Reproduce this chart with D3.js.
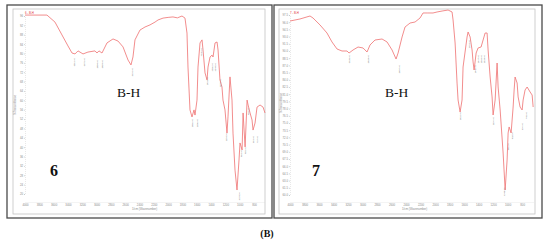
<!DOCTYPE html>
<meta charset="utf-8">
<style>

body {
  margin: 0;
  background: #fff;
}

svg text {
  font-family: "Liberation Sans", Arial, sans-serif;
}

svg text.serif {
  font-family: "Liberation Serif", "Times New Roman", serif;
}

.spec {
  fill: none;
  stroke: #f07878;
  stroke-width: 0.85px;
}

.tick-lab {
  fill: #8a8a8a;
  font-size: 2.8px;
}

.peak-lab {
  fill: #6a6a6a;
  font-size: 2.3px;
}

</style>
<body>

<script src="https://cdn.jsdelivr.net/npm/d3@7"></script>
<script>

// spectrum 6 (left panel): wavenumber (1/cm) and %T
var wn6 = [4000, 3693, 3581, 3483, 3399, 3343, 3301, 3259, 3189, 3120, 3022, 2994, 2966, 2924, 2854, 2770, 2700, 2630, 2560, 2519,
           2491, 2463, 2393, 2323, 2253, 2183, 2141, 2071, 2000, 1932, 1870, 1806, 1764, 1736, 1722, 1694, 1666, 1638, 1624, 1596,
           1582, 1554, 1526, 1512, 1484, 1456, 1442, 1414, 1386, 1372, 1344, 1316, 1302, 1275, 1247, 1233, 1205, 1177, 1163, 1135,
           1107, 1093, 1065, 1037, 1009, 995, 966, 952, 924, 896, 882, 855, 827, 813, 785, 757, 715, 673, 646];
var t6 = [96.4, 96.4, 93.4, 87.9, 83.2, 80.2, 79.8, 81.1, 79.8, 80.6, 81.1, 80.2, 81.1, 80.2, 84.5, 86.2, 85.3, 82.8, 77.2, 75.1,
          78.5, 85.8, 90.0, 91.3, 92.2, 93.4, 94.3, 95.1, 95.4, 95.6, 95.2, 96.0, 95.1, 88.7, 74.2, 55.9, 52.9, 55.9, 53.7, 60.1,
          74.2, 84.5, 85.8, 81.5, 71.7, 68.7, 74.2, 78.5, 79.3, 78.5, 84.5, 84.9, 81.5, 68.7, 65.7, 60.1, 55.9, 46.0, 52.9, 70.0,
          60.1, 46.0, 30.2, 21.7, 34.5, 41.8, 38.8, 54.6, 40.1, 60.1, 58.0, 54.6, 51.6, 47.3, 50.3, 57.1, 58.0, 57.1, 54.6];

// spectrum 7 (right panel)
var wn7 = [4000, 3862, 3724, 3683, 3586, 3490, 3421, 3352, 3283, 3214, 3186, 3131, 3062, 2993, 2938, 2897, 2828, 2731, 2662, 2593,
           2538, 2510, 2455, 2414, 2345, 2276, 2207, 2166, 2110, 2028, 1972, 1903, 1821, 1766, 1752, 1724, 1697, 1683, 1655, 1628,
           1614, 1559, 1545, 1517, 1490, 1476, 1462, 1434, 1407, 1366, 1338, 1310, 1283, 1269, 1241, 1214, 1200, 1172, 1145, 1131,
           1103, 1062, 1034, 1007, 993, 979, 952, 924, 910, 897, 869, 855, 828, 800, 786, 759, 731, 690, 662, 648];
var t7 = [96.25, 96.67, 97.29, 96.88, 95.42, 93.75, 91.88, 90.42, 90.0, 90.0, 89.58, 90.21, 90.83, 90.63, 89.79, 91.25, 92.29, 92.5, 91.88, 90.21,
          88.33, 89.58, 92.92, 95.0, 95.83, 96.04, 96.88, 97.92, 97.92, 97.92, 98.13, 98.33, 98.54, 98.13, 96.46, 91.67, 83.33, 79.79, 77.29, 79.79,
          86.67, 92.92, 93.96, 92.92, 90.21, 87.71, 86.04, 89.58, 90.63, 90.83, 92.29, 93.75, 93.75, 90.21, 84.58, 80.42, 76.67, 79.79, 87.5, 82.5,
          77.71, 68.75, 61.04, 67.29, 72.92, 74.17, 72.92, 78.33, 81.88, 84.58, 83.33, 80.42, 78.33, 77.71, 79.79, 81.88, 82.5, 81.46, 80.83, 78.33];

// peak labels (wavenumber, %T where the label starts)
var peakWn6 = [3315, 3175, 2994, 2924, 2505, 1666, 1596, 1540, 1456, 1386, 1344, 1275, 1191, 1009, 981, 925, 883, 813, 757];
var peakT6 = [78.1, 78.1, 77.2, 77.2, 73.8, 52.0, 52.0, 82.3, 70.0, 75.9, 75.9, 69.1, 46.0, 20.8, 38.8, 40.1, 56.7, 44.8, 44.8];
var peakWn7 = [3186, 2924, 2497, 1655, 1531, 1448, 1407, 1366, 1324, 1200, 1048, 993, 938, 800, 745];
var peakT7 = [89.2, 89.2, 87.1, 77.3, 92.3, 87.1, 89.2, 89.2, 89.2, 76.25, 61.5, 70.8, 73.1, 75.0, 77.3];

// tick labels
var xTicks = [4000, 3800, 3600, 3400, 3200, 3000, 2800, 2600, 2400, 2200, 2000, 1800, 1600, 1400, 1200, 1000, 800];
var yTicks6 = [96, 92, 88, 84, 80, 76, 72, 68, 64, 60, 56, 52, 48, 44, 40, 36, 32, 28, 24, 20];
var yTicks7 = [97.5, 96, 94.5, 93, 91.5, 90, 88.5, 87, 85.5, 84, 82.5, 81, 79.5, 78, 76.5, 75, 73.5, 72, 70.5, 69,
               67.5, 66, 64.5, 63, 61.5, 60];

var compounds = ["6", "7"];

var svg = d3.select("body").append("svg")
    .attr("width", 550)
    .attr("height", 244);

function drawPanel(p) {
  var g = svg.append("g");

  // outer box and inner (screenshot) frame
  g.append("rect")
      .attr("x", p.outer[0]).attr("y", p.outer[1])
      .attr("width", p.outer[2]).attr("height", p.outer[3])
      .attr("fill", "none").attr("stroke", "#4a4a4a").attr("stroke-width", 1.3);
  g.append("rect")
      .attr("x", p.inner[0]).attr("y", p.inner[1])
      .attr("width", p.inner[2]).attr("height", p.inner[3])
      .attr("fill", "none").attr("stroke", "#c4c4c4").attr("stroke-width", 0.8);

  var x = d3.scaleLinear().domain([4000, 650]).range(p.xRange);
  var y = d3.scaleLinear().domain(p.yDomain).range(p.yRange);

  // axes
  var xa = g.append("g")
      .attr("transform", "translate(0," + p.xAxisY + ")")
      .call(d3.axisBottom(x).tickValues(xTicks).tickSize(0).tickPadding(2.2).tickFormat(d3.format("d")));
  var ya = g.append("g")
      .attr("transform", "translate(" + p.yAxisX + ",0)")
      .call(d3.axisLeft(y).tickValues(p.yTicks).tickSize(1).tickPadding(1).tickFormat(d3.format(p.yFmt)));
  [xa, ya].forEach(function(a) {
    a.select(".domain").attr("stroke", "#d0d0d0").attr("stroke-width", 0.5).attr("stroke-dasharray", "1,1");
    a.selectAll(".tick line").attr("stroke", "#aaa").attr("stroke-width", 0.5);
    a.selectAll("text").attr("class", "tick-lab").attr("font-size", null).attr("font-family", null);
  });

  // the spectrum
  var pts = p.wn.map(function(w, i) { return [w, p.t[i]]; });
  g.append("path")
      .datum(pts)
      .attr("class", "spec")
      .attr("d", d3.line()
          .x(function(d) { return x(d[0]); })
          .y(function(d) { return y(d[1]); }));

  // peak labels
  g.selectAll(".peak-lab")
      .data(p.peakWn)
    .enter().append("text")
      .attr("class", "peak-lab")
      .attr("text-anchor", "end")
      .attr("transform", function(w, i) {
        return "translate(" + (x(w) + 0.8) + "," + y(p.peakT[i]) + ")rotate(-90)";
      })
      .text(function(w) { return w.toFixed(2); });

  // header text and axis titles
  g.append("text")
      .attr("x", p.xRange[0]).attr("y", p.inner[1] + 4.5)
      .attr("fill", "#e03030").attr("font-size", 2.8)
      .text(p.name + " - B-H");
  g.append("text")
      .attr("class", "tick-lab")
      .attr("x", p.xTitle).attr("y", p.xAxisY + 7.5)
      .text("1/cm (Wavenumber)");
  g.append("text")
      .attr("class", "tick-lab")
      .attr("text-anchor", "middle")
      .attr("transform", "translate(" + (p.inner[0] + 3) + "," + p.yTitle + ")rotate(-90)")
      .text("%Transmittance");

  // annotations
  g.append("text")
      .attr("class", "serif")
      .attr("x", p.bh).attr("y", 97)
      .attr("font-size", 13.5)
      .attr("fill", "#111")
      .text("B-H");
  g.append("text")
      .attr("class", "serif")
      .attr("x", p.num).attr("y", 176)
      .attr("font-size", 16)
      .attr("font-weight", "bold").attr("fill", "#111")
      .text(p.name);
}

drawPanel({
  name: compounds[0], wn: wn6, t: t6, peakWn: peakWn6, peakT: peakT6,
  outer: [7, 5, 265, 213], inner: [13, 9, 252, 205],
  xRange: [25, 264.7], yDomain: [20, 96], yRange: [194, 16], yTicks: yTicks6, yFmt: "d",
  xAxisY: 202, yAxisX: 25, xTitle: 132, yTitle: 105, bh: 117, num: 50
});

drawPanel({
  name: compounds[1], wn: wn7, t: t7, peakWn: peakWn7, peakT: peakT7,
  outer: [274, 5, 268, 213], inner: [279, 9, 256, 205],
  xRange: [290, 533], yDomain: [60, 97.5], yRange: [195, 15], yTicks: yTicks7, yFmt: ".1f",
  xAxisY: 202, yAxisX: 290, xTitle: 402, yTitle: 103, bh: 385, num: 312
});

svg.append("text")
    .attr("class", "serif")
    .attr("x", 267).attr("y", 237)
    .attr("text-anchor", "middle")
    .attr("font-size", 10).attr("font-weight", "bold")
    .attr("fill", "#111")
    .text("(B)");

</script>
</body>
</html>
